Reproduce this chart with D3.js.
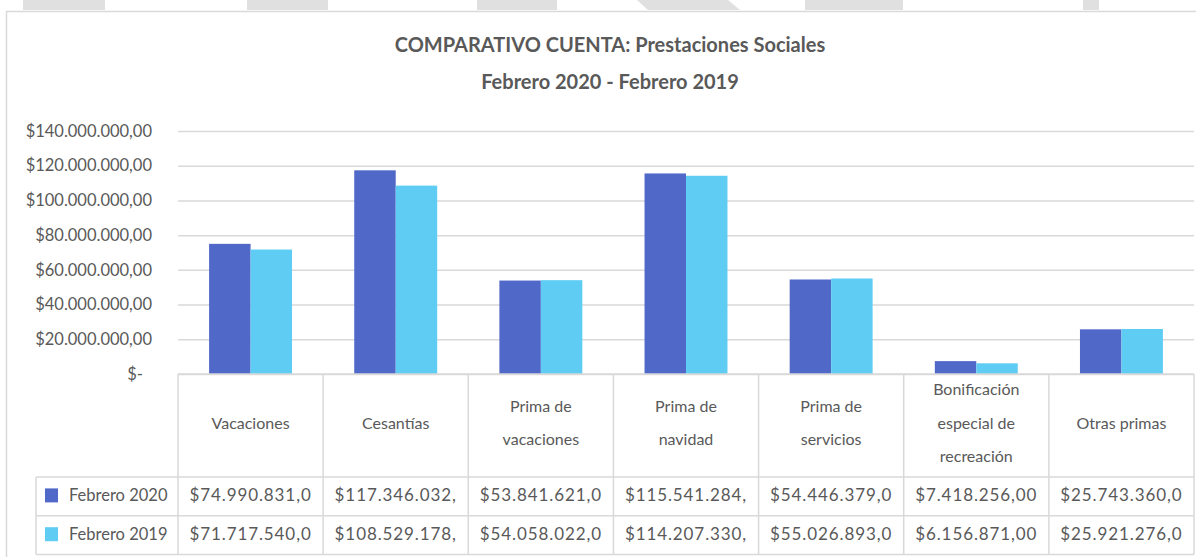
<!DOCTYPE html>
<html>
<head>
<meta charset="utf-8">
<script src="https://cdn.jsdelivr.net/npm/d3@7"></script>
<style>
  body { margin: 0; background: #fff; }
  text { font-family: Lato, "Open Sans", sans-serif; }
</style>
</head>
<body>
<div id="chart"></div>
<script>
const categories = [
  "Vacaciones",
  "Cesantías",
  "Prima de vacaciones",
  "Prima de navidad",
  "Prima de servicios",
  "Bonificación especial de recreación",
  "Otras primas"
];
const seriesNames = ["Febrero 2020", "Febrero 2019"];
const feb2020 = [74990831, 117346032, 53841621, 115541284, 54446379, 7418256, 25743360];
const feb2019 = [71717540, 108529178, 54058022, 114207330, 55026893, 6156871, 25921276];
const yTicks = [0, 20e6, 40e6, 60e6, 80e6, 100e6, 120e6, 140e6];

(() => {
  const width = 1196;
  const height = 557;
  const colors = ["#5068c8", "#5fcdf3"];
  const grid = "#d9d9d9";
  const textColor = "#595959";

  const svg = d3
    .select("#chart")
    .append("svg")
    .attr("width", width)
    .attr("height", height);

  // gray shapes of the page behind the chart
  const bg = svg.append("g").attr("fill", "#e0e0e0");
  [[23, 105], [247, 328], [477, 557], [805, 903], [1083, 1099]].forEach(([a, b]) => {
    bg.append("rect").attr("x", a).attr("y", 0).attr("width", b - a).attr("height", 10);
  });
  bg.append("polygon").attr("points", "637,0 728,0 740,10 648,10");

  // chart frame
  svg.append("path")
    .attr("d", `M6.5,${height} V11.5 H${width}`)
    .attr("fill", "none")
    .attr("stroke", grid)
    .attr("stroke-width", 1.5);

  const es = d3.formatLocale({ decimal: ",", thousands: ".", grouping: [3], currency: ["$", ""] });
  const money = es.format("$,.2f");

  const left = 178, right = 1194, top = 131, bottom = 374;

  const x0 = d3.scaleBand().domain(categories).range([left, right]);
  const x1 = d3.scaleBand().domain(seriesNames).range([0, x0.bandwidth()]).paddingOuter(0.75);
  const y = d3.scaleLinear().domain([0, 140e6]).range([bottom, top]);

  // title
  svg.append("text")
    .attr("x", 610).attr("y", 52)
    .attr("text-anchor", "middle")
    .attr("fill", textColor)
    .style("font-size", "20px").style("font-weight", "bold")
    .text("COMPARATIVO CUENTA: Prestaciones Sociales");
  svg.append("text")
    .attr("x", 610).attr("y", 89)
    .attr("text-anchor", "middle")
    .attr("fill", textColor)
    .style("font-size", "20px").style("font-weight", "bold")
    .text("Febrero 2020 - Febrero 2019");

  // y axis with gridlines
  const yAxis = svg.append("g")
    .attr("transform", `translate(${left},0)`)
    .call(d3.axisLeft(y).tickValues(yTicks).tickSize(-(right - left)).tickPadding(26)
      .tickFormat((d) => (d === 0 ? "$-" : money(d))));
  yAxis.select(".domain").remove();
  yAxis.selectAll(".tick line").attr("stroke", grid).attr("stroke-width", 1.5);
  yAxis.selectAll(".tick text")
    .attr("fill", textColor)
    .style("font-size", "16.5px")
    .attr("dx", (d) => (d === 0 ? -9 : 0));

  // bars
  const rows = [feb2020, feb2019];
  const groups = svg.append("g")
    .selectAll("g")
    .data(categories)
    .join("g")
    .attr("transform", (d) => `translate(${x0(d)},0)`);

  groups.selectAll("rect")
    .data((d, i) => seriesNames.map((s, j) => ({ s, v: rows[j][i] })))
    .join("rect")
    .attr("x", (d) => x1(d.s))
    .attr("width", x1.bandwidth())
    .attr("y", (d) => y(d.v))
    .attr("height", (d) => y(0) - y(d.v))
    .attr("fill", (d, j) => colors[j]);

  // data table
  const headBottom = 477, rowH = 38.8, labelLeft = 36;
  const table = svg.append("g").attr("stroke", grid).attr("stroke-width", 1.5).attr("fill", "none");
  table.append("line").attr("x1", left).attr("x2", right).attr("y1", bottom).attr("y2", bottom);
  [0, 1, 2].forEach((k) => {
    const yy = headBottom + k * rowH;
    table.append("line").attr("x1", labelLeft).attr("x2", right).attr("y1", yy).attr("y2", yy);
  });
  table.append("line").attr("x1", labelLeft).attr("x2", labelLeft)
    .attr("y1", headBottom).attr("y2", headBottom + 2 * rowH);
  categories.concat([null]).forEach((c) => {
    const xx = c ? x0(c) : right;
    table.append("line").attr("x1", xx).attr("x2", xx).attr("y1", bottom).attr("y2", headBottom + 2 * rowH);
  });

  // header labels, wrapped
  groups.append("text")
    .attr("x", x0.bandwidth() / 2)
    .attr("text-anchor", "middle")
    .attr("fill", textColor)
    .style("font-size", "16px")
    .each(function (d) {
      const t = d3.select(this);
      const words = d.split(" ");
      const lines = [];
      let line = [];
      const probe = t.append("tspan");
      words.forEach((w) => {
        const test = line.concat([w]).join(" ");
        probe.text(test);
        if (line.length && probe.node().getComputedTextLength() > 100) {
          lines.push(line.join(" "));
          line = [w];
        } else {
          line.push(w);
        }
      });
      lines.push(line.join(" "));
      probe.remove();
      const lh = 33.5;
      const y0 = 428.5 - ((lines.length - 1) * lh) / 2;
      lines.forEach((l, k) => {
        t.append("tspan").attr("x", x0.bandwidth() / 2).attr("y", y0 + k * lh).text(l);
      });
    });

  // legend keys and values
  seriesNames.forEach((s, j) => {
    const cy = headBottom + j * rowH + rowH / 2;
    svg.append("rect")
      .attr("x", 45).attr("y", cy - 8).attr("width", 13).attr("height", 14)
      .attr("fill", colors[j]);
    svg.append("text")
      .attr("x", 69).attr("y", cy + 4.5)
      .attr("fill", textColor)
      .style("font-size", "16.5px")
      .text(s);
    groups.append("text")
      .attr("x", x0.bandwidth() / 2)
      .attr("y", cy + 4.5)
      .attr("text-anchor", "middle")
      .attr("fill", textColor)
      .style("font-size", "17px")
      .style("letter-spacing", "0.9px")
      .text((d, i) => money(rows[j][i]).slice(0, 13));
  });
})();
</script>
</body>
</html>
